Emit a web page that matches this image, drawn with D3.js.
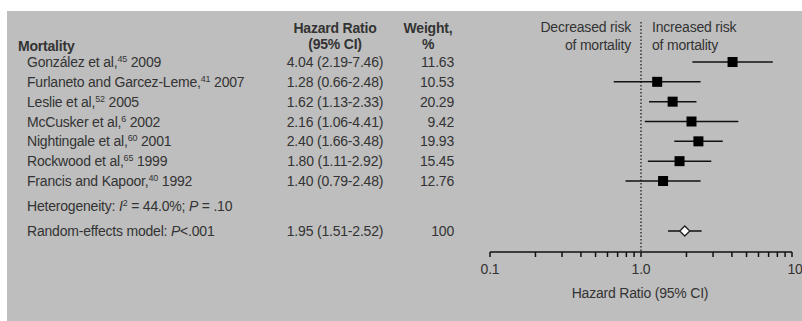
<!DOCTYPE html>
<html><head><meta charset="utf-8">
<script src="https://cdn.jsdelivr.net/npm/d3@7"></script>
<style>body{margin:0;background:#fff;} text{font-family:"Liberation Sans",Arial,sans-serif;}</style>
</head><body>
<svg id="c" width="802" height="321"></svg>
<script>
const studies = ["González et al,", "Furlaneto and Garcez-Leme,", "Leslie et al,", "McCusker et al,", "Nightingale et al,", "Rockwood et al,", "Francis and Kapoor,"];
const refs = ["45", "41", "52", "6", "60", "65", "40"];
const years = ["2009", "2007", "2005", "2002", "2001", "1999", "1992"];
const hr = [4.04, 1.28, 1.62, 2.16, 2.40, 1.80, 1.40];
const lo = [2.19, 0.66, 1.13, 1.06, 1.66, 1.11, 0.79];
const hi = [7.46, 2.48, 2.33, 4.41, 3.48, 2.92, 2.48];
const weights = ["11.63", "10.53", "20.29", "9.42", "19.93", "15.45", "12.76"];
const pooled = {hr: 1.95, lo: 1.51, hi: 2.52, weight: "100"};
const tickLabels = ["0.1", "1.0", "10"];
const tickValues = [0.1, 1, 10];
const minorTicks = [0.2,0.3,0.4,0.5,0.6,0.7,0.8,0.9,2,3,4,5,6,7,8,9];

const svg = d3.select("#c");
const txt = "#333";
svg.append("rect").attr("x",7).attr("y",11).attr("width",795).attr("height",310).attr("fill","#bebebe");

const x = d3.scaleLog().domain([0.1,10]).range([490,792]);
const rowY = d3.scalePoint().domain(d3.range(studies.length)).range([62,181]);
const fs = 14;

function t(xp, yp, s, anchor, bold){
  return svg.append("text").attr("x",xp).attr("y",yp+5)
    .attr("text-anchor",anchor||"start").attr("font-size",fs).attr("fill",txt)
    .attr("font-weight",bold?"bold":"normal").attr("letter-spacing",-0.2).text(s);
}
function sup(te, s){
  te.append("tspan").attr("font-size",9).attr("dy",-5).text(s);
  return te.append("tspan").attr("dy",5);
}
// headers
t(18,46,"Mortality","start",true);
t(335,28,"Hazard Ratio","middle",true);
t(335,44,"(95% CI)","middle",true);
t(428,28,"Weight,","middle",true);
t(428,44,"%","middle",true);
t(631,27,"Decreased risk","end");
t(631,45,"of mortality","end");
t(652,27,"Increased risk","start");
t(652,45,"of mortality","start");

studies.forEach((s,i)=>{
  const y = rowY(i);
  const te = t(27,y,"","start");
  te.append("tspan").text(s);
  sup(te, refs[i]).text(" "+years[i]);
  t(335,y,`${hr[i].toFixed(2)} (${lo[i].toFixed(2)}-${hi[i].toFixed(2)})`,"middle");
  t(454,y,weights[i],"end");
});
// heterogeneity
const het = t(27,206,"","start");
het.append("tspan").text("Heterogeneity: ");
het.append("tspan").attr("font-style","italic").text("I");
sup(het,"2").text(" = 44.0%; ");
het.append("tspan").attr("font-style","italic").text("P");
het.append("tspan").text(" = .10");
const rem = t(27,231,"","start");
rem.append("tspan").text("Random-effects model: ");
rem.append("tspan").attr("font-style","italic").text("P");
rem.append("tspan").text("<.001");
t(335,231,`${pooled.hr.toFixed(2)} (${pooled.lo.toFixed(2)}-${pooled.hi.toFixed(2)})`,"middle");
t(454,231,pooled.weight,"end");

// reference line
svg.append("line").attr("x1",x(1)).attr("x2",x(1)).attr("y1",22).attr("y2",252)
  .attr("stroke","#111").attr("stroke-width",1.2).attr("stroke-dasharray","1.5,2");

// CIs and squares
const g = svg.append("g");
studies.forEach((s,i)=>{
  const y = rowY(i);
  g.append("line").attr("x1",x(lo[i])).attr("x2",x(hi[i])).attr("y1",y).attr("y2",y)
    .attr("stroke","#111").attr("stroke-width",1.5);
  g.append("rect").attr("x",x(hr[i])-5).attr("y",y-5).attr("width",10).attr("height",10).attr("fill","#000");
});
const py = 231;
g.append("line").attr("x1",x(pooled.lo)).attr("x2",x(pooled.hi)).attr("y1",py).attr("y2",py)
  .attr("stroke","#111").attr("stroke-width",1.5);
const px = x(pooled.hr);
g.append("path").attr("d",`M${px-5},${py} L${px},${py-5} L${px+5},${py} L${px},${py+5} Z`)
  .attr("fill","#fff").attr("stroke","#222").attr("stroke-width",1.3);

// axis
const axisG = svg.append("g").attr("transform","translate(0,252)");
axisG.append("line").attr("x1",x(0.1)).attr("x2",x(10)).attr("stroke","#111").attr("stroke-width",1.5);
axisG.selectAll(".mt").data(minorTicks.concat(tickValues)).enter().append("line")
  .attr("x1",d=>x(d)).attr("x2",d=>x(d)).attr("y1",0).attr("y2",5).attr("stroke","#111").attr("stroke-width",1.5);
tickValues.forEach((v,i)=>{
  t(i===2?x(v)+3:x(v), 269, tickLabels[i], "middle");
});
t(640,293,"Hazard Ratio (95% CI)","middle");
</script>
</body></html>
